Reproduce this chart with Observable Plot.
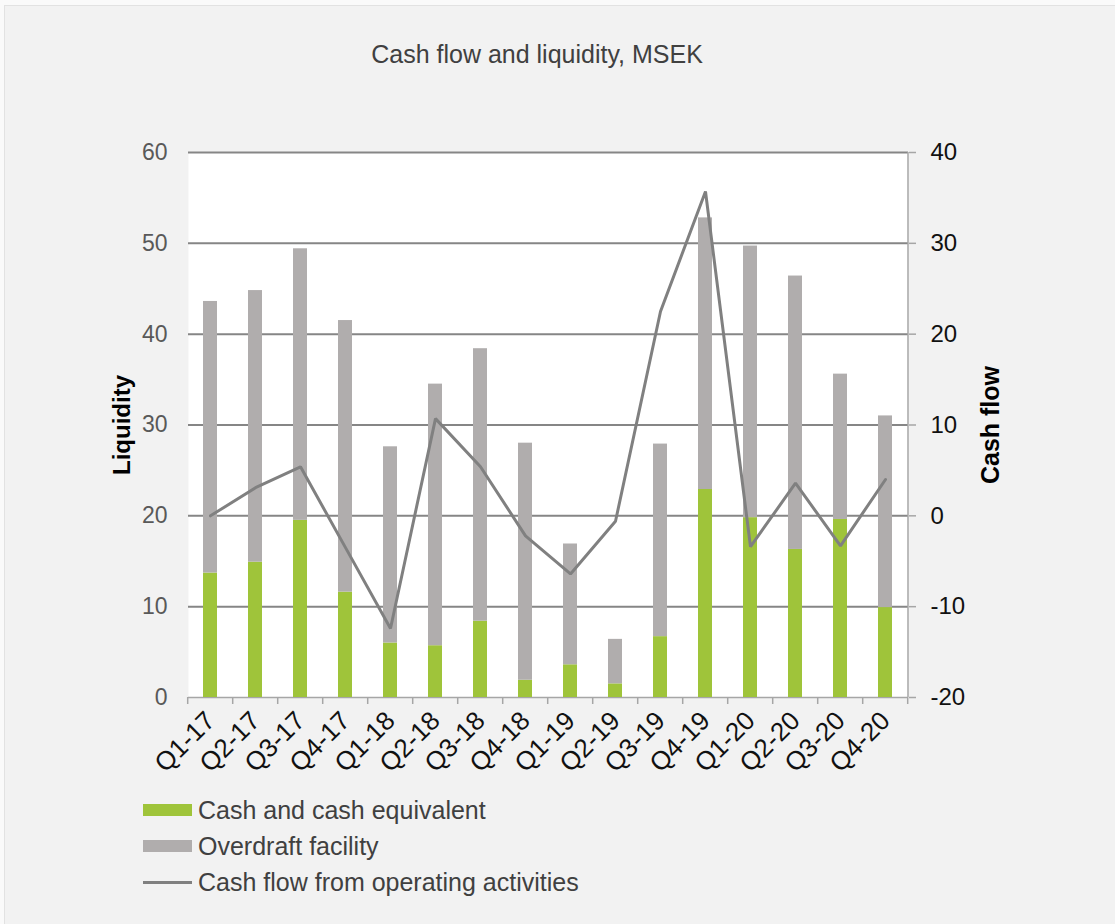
<!DOCTYPE html>
<html>
<head>
<meta charset="utf-8">
<script src="https://cdn.jsdelivr.net/npm/d3@7"></script>
<script src="https://cdn.jsdelivr.net/npm/@observablehq/plot@0.6"></script>
<style>
  html, body { margin: 0; padding: 0; background: #fafafa; width: 1115px; height: 924px; overflow: hidden; }
  #panel { position: absolute; left: 4px; top: 5px; width: 1140px; height: 960px; background: #f2f2f2; border: 1px solid #e2e2e2; }
  #chart { position: absolute; left: 0; top: 0; }
  .title { position: absolute; left: 537px; top: 40px; transform: translateX(-50%); font: 25px "Liberation Sans", Arial, sans-serif; color: #404040; white-space: nowrap; }
  .legend { position: absolute; left: 143px; top: 792px; font: 25px "Liberation Sans", Arial, sans-serif; color: #404040; }
  .legend .row { height: 36px; display: flex; align-items: center; }
  .legend .sw { width: 49px; height: 12px; margin-right: 6px; }
  .legend .ln { width: 49px; height: 3px; margin-right: 6px; }
</style>
</head>
<body>
<div id="panel"></div>
<div id="chart"></div>
<div class="title">Cash flow and liquidity, MSEK</div>
<div class="legend" id="legend"></div>
<script>
// ---- data ----
const quarters = ["Q1-17","Q2-17","Q3-17","Q4-17","Q1-18","Q2-18","Q3-18","Q4-18","Q1-19","Q2-19","Q3-19","Q4-19","Q1-20","Q2-20","Q3-20","Q4-20"];
const cashEquivalent = [13.7,14.9,19.5,11.6,6.0,5.7,8.4,1.9,3.6,1.5,6.7,22.9,19.8,16.3,19.6,9.9];
const overdraftFacility = [29.9,29.9,29.9,29.9,21.6,28.8,30.0,26.1,13.3,4.9,21.2,29.9,29.9,30.1,16.0,21.1];
const cashFlowOperating = [0.0,3.1,5.4,-3.5,-12.4,10.7,5.4,-2.2,-6.4,-0.6,22.5,35.7,-3.4,3.6,-3.3,4.0];
const seriesNames = ["Cash and cash equivalent","Overdraft facility","Cash flow from operating activities"];
const leftTicks = [0,10,20,30,40,50,60];
const leftDomain = [0,60];
const rightDomain = [-20,40];

const colors = { cash: "#9fc43a", overdraft: "#b0adad", line: "#808080" };

// ---- build tables ----
const rows = [];
quarters.forEach((q,i) => rows.push({q, series: seriesNames[0], v: cashEquivalent[i]}));
quarters.forEach((q,i) => rows.push({q, series: seriesNames[1], v: overdraftFacility[i]}));
const toLeft = c => (c - rightDomain[0]) / (rightDomain[1] - rightDomain[0]) * (leftDomain[1] - leftDomain[0]) + leftDomain[0];
const toRight = v => (v - leftDomain[0]) / (leftDomain[1] - leftDomain[0]) * (rightDomain[1] - rightDomain[0]) + rightDomain[0];
const lineData = quarters.map((q,i) => ({q, cf: cashFlowOperating[i]}));

// custom mark: category boundary ticks + right axis line
function axisDecor(index, scales, values, dims) {
  const g = d3.create("svg:g");
  const xs = quarters.map(q => scales.x(q));
  const step = xs[1] - xs[0];
  const bw = (typeof scales.x.bandwidth === "number" && isFinite(scales.x.bandwidth)) ? scales.x.bandwidth : step * 0.32;
  const gap = (step - bw) / 2;
  const yb = dims.height - dims.marginBottom;
  const xr = dims.width - dims.marginRight;
  const bounds = xs.map(x => x - gap).concat([xs[xs.length-1] + bw + gap]).filter(v => isFinite(v));
  g.selectAll("line.b").data(bounds).join("line").attr("class", "b")
    .attr("x1", d => d).attr("x2", d => d).attr("y1", yb).attr("y2", yb + 7)
    .attr("stroke", "#a6a6a6").attr("stroke-width", 1.5);
  g.append("line").attr("x1", xr).attr("x2", xr).attr("y1", dims.marginTop).attr("y2", yb)
    .attr("stroke", "#a6a6a6").attr("stroke-width", 1.5);
  return g.node();
}

const labelData = quarters.map(q => ({q}));

const chart = Plot.plot({
  width: 1115,
  height: 924,
  marginLeft: 188,
  marginRight: 207,
  marginTop: 152,
  marginBottom: 227,
  style: { background: "transparent", fontFamily: "'Liberation Sans', Arial, sans-serif", overflow: "visible" },
  x: { domain: quarters, paddingInner: 0.68, paddingOuter: 0.34, align: 0.5, axis: null },
  y: { domain: leftDomain, axis: null },
  color: { domain: seriesNames.slice(0,2), range: [colors.cash, colors.overdraft] },
  marks: [
    Plot.frame({ fill: "white", stroke: null }),
    Plot.ruleY(leftTicks.filter(d => d > 0), { stroke: "#868686", strokeWidth: 2 }),
    Plot.ruleY([0], { stroke: "#a6a6a6", strokeWidth: 1.5 }),
    Plot.barY(rows, Plot.stackY({ x: "q", y: "v", fill: "series", order: null })),
    Plot.line(lineData, { x: "q", y: d => toLeft(d.cf), stroke: colors.line, strokeWidth: 3, strokeLinejoin: "miter" }),
    axisDecor,
    Plot.axisY({ anchor: "left", ticks: leftTicks, tickSize: 0, tickPadding: 21, fontSize: 23, fill: "#595959", label: null }),
    Plot.axisY({ anchor: "right", ticks: leftTicks, tickFormat: d => String(toRight(d)), tickSize: 7, tickPadding: 15, fontSize: 24, fill: "#111", stroke: "#a6a6a6", strokeWidth: 1.5, label: null }),
    Plot.text(labelData, { x: "q", frameAnchor: "bottom", text: "q", rotate: -45, textAnchor: "end", lineAnchor: "middle", dx: 0, dy: 19, fontSize: 26, fill: "#111" }),
    Plot.text(["Liquidity"], { frameAnchor: "left", textAnchor: "middle", rotate: -90, dx: -66, fontWeight: "bold", fontSize: 24, fill: "#000" }),
    Plot.text(["Cash flow"], { frameAnchor: "right", textAnchor: "middle", rotate: -90, dx: 82, fontWeight: "bold", fontSize: 25, fill: "#000" })
  ]
});
document.getElementById("chart").appendChild(chart);

// legend
const legend = document.getElementById("legend");
const legendItems = [
  { name: seriesNames[0], kind: "sw", color: colors.cash },
  { name: seriesNames[1], kind: "sw", color: colors.overdraft },
  { name: seriesNames[2], kind: "ln", color: colors.line }
];
legendItems.forEach(it => {
  const row = document.createElement("div");
  row.className = "row";
  const s = document.createElement("div");
  s.className = it.kind;
  s.style.background = it.color;
  const t = document.createElement("span");
  t.textContent = it.name;
  row.appendChild(s); row.appendChild(t);
  legend.appendChild(row);
});
</script>
</body>
</html>
